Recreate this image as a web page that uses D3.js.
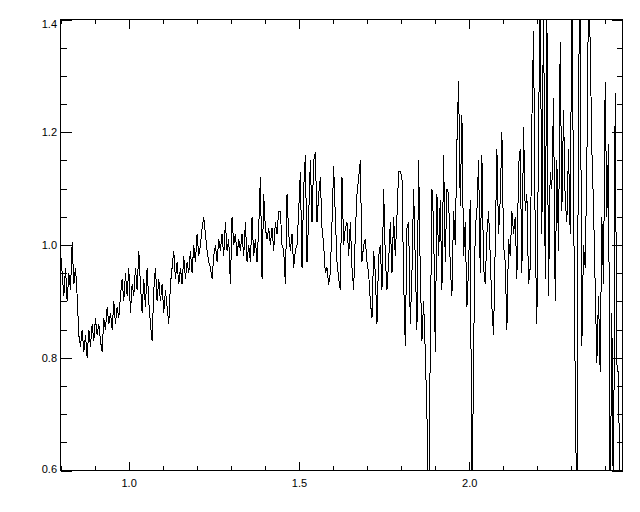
<!DOCTYPE html>
<html>
<head>
<meta charset="utf-8">
<script src="https://cdn.jsdelivr.net/npm/d3@7"></script>
<style>
  body { margin: 0; background: #fff; }
  text { font-family: "Liberation Sans", Arial, sans-serif; font-size: 11px; fill: #000; }
</style>
</head>
<body>
<div id="chart"></div>
<script>
// Spectrum: flux on an even wavelength grid
const waveStart = 0.80, waveEnd = 2.448;
const flux = [
  0.99, 0.95, 0.91, 0.96, 0.90, 0.95,   0.92, 1.005, 0.93, 0.96, 0.91, 0.84,
  0.82, 0.85, 0.81, 0.84, 0.80, 0.85,   0.82, 0.86, 0.83, 0.87, 0.84, 0.86,
  0.83, 0.81, 0.87, 0.85, 0.89, 0.86,   0.88, 0.85, 0.90, 0.86, 0.89, 0.87,
  0.91, 0.94, 0.90, 0.95, 0.91, 0.96,   0.88, 0.93, 0.91, 0.96, 0.92, 0.99,
  0.93, 0.88, 0.94, 0.89, 0.96, 0.90,   0.86, 0.83, 0.92, 0.96, 0.90, 0.94,
  0.90, 0.93, 0.88, 0.92, 0.89, 0.86,   0.93, 0.96, 0.99, 0.94, 0.97, 0.93,
  0.96, 0.93, 0.98, 0.94, 0.97, 0.95,   0.99, 0.95, 1.00, 0.97, 1.02, 0.98,
  1.00, 1.03, 1.05, 1.02, 0.99, 0.97,   0.96, 0.94, 0.98, 1.00, 0.97, 1.01,
  0.99, 1.02, 0.98, 1.04, 0.99, 1.01,   0.93, 1.05, 1.00, 1.02, 0.98, 1.01,
  0.99, 1.02, 0.98, 1.04, 0.97, 1.00,   0.97, 1.05, 0.98, 1.01, 0.97, 1.03,
  1.12, 0.94, 1.09, 1.03, 1.01, 1.03,   1.00, 1.03, 0.99, 1.04, 1.02, 1.06,
  1.06, 1.00, 0.99, 0.93, 1.09, 1.02,   0.99, 1.02, 0.96, 0.99, 1.00, 1.06,
  1.13, 0.96, 1.10, 1.16, 0.97, 1.05,   1.15, 1.04, 1.15, 1.165, 1.04, 1.09,
  1.12, 1.03, 1.00, 0.95, 0.96, 0.93,   0.95, 1.04, 1.14, 1.05, 0.97, 0.94,
  0.92, 1.12, 1.00, 1.03, 1.04, 0.98,   1.04, 0.96, 0.92, 1.02, 1.09, 1.12,
  1.15, 0.97, 1.00, 1.01, 0.97, 0.95,   0.90, 0.87, 0.99, 0.95, 0.86, 0.98,
  1.00, 0.92, 1.10, 0.98, 0.92, 0.97,   1.04, 0.95, 1.05, 0.98, 1.05, 1.13,
  1.13, 1.12, 0.94, 0.82, 1.03, 1.04,   0.86, 0.95, 1.10, 0.97, 0.85, 1.15,
  0.95, 0.83, 0.90, 0.81, 0.70, 0.50,   0.82, 1.10, 1.04, 0.81, 1.09, 0.98,
  1.08, 0.92, 1.16, 0.97, 1.10, 1.09,   0.96, 0.91, 1.06, 1.00, 1.18, 1.29,
  1.07, 1.23, 0.98, 1.04, 0.89, 0.96,   1.08, 0.50, 0.80, 1.03, 1.06, 1.15,
  0.95, 1.16, 0.96, 0.93, 1.02, 1.06,   0.98, 0.89, 0.84, 1.00, 1.17, 1.02,
  1.08, 1.20, 1.00, 0.97, 0.85, 1.01,   0.98, 1.06, 1.02, 1.05, 0.94, 1.14,
  1.17, 0.95, 1.21, 1.06, 1.09, 0.93,   0.96, 1.22, 1.38, 1.02, 0.86, 1.20,
  1.45, 1.02, 1.45, 0.94, 1.42, 0.91,   1.13, 1.10, 1.26, 0.90, 1.15, 0.99,
  1.36, 1.06, 1.24, 1.08, 1.04, 1.17,   1.02, 1.45, 1.10, 0.76, 0.50, 1.29,
  1.45, 0.82, 1.00, 0.96, 1.14, 1.45,   1.36, 1.17, 1.07, 0.93, 0.79, 0.91,
  0.775, 1.05, 0.93, 1.29, 1.05, 1.18,  0.50, 0.88, 0.50, 1.27, 0.79, 0.77,
  0.50, 0.58
];

// Axis ticks
const xMajorTicks = [1.0, 1.5, 2.0];
const yMajorTicks = [0.6, 0.8, 1.0, 1.2, 1.4];

const width = 640, height = 512;
const plot = {left: 60.5, right: 622.5, top: 19.5, bottom: 470.5};

const svg = d3.select("#chart")
  .append("svg")
    .attr("width", width)
    .attr("height", height)
    .attr("viewBox", [0, 0, width, height]);

const xScale = d3.scaleLinear()
  .domain([0.8, 2.45])
  .range([plot.left, plot.right]);

const yScale = d3.scaleLinear()
  .domain([0.6, 1.4])
  .range([plot.bottom, plot.top]);

const xMinorTicks = d3.range(0.8, 2.451, 0.1).map(d => +d.toFixed(2)).filter(d => !xMajorTicks.includes(d));
const yMinorTicks = d3.range(0.6, 1.401, 0.05).map(d => +d.toFixed(2)).filter(d => !yMajorTicks.includes(d));

// clip the spectrum to the plot box
svg.append("clipPath")
    .attr("id", "clip")
  .append("rect")
    .attr("x", plot.left)
    .attr("y", plot.top)
    .attr("width", plot.right - plot.left)
    .attr("height", plot.bottom - plot.top);

const step = (waveEnd - waveStart) / (flux.length - 1);
const data = flux.map((v, i) => ({wave: waveStart + i * step, value: v}));

const line = d3.line()
  .x(d => xScale(d.wave))
  .y(d => yScale(d.value));

svg.append("path")
  .datum(data)
  .attr("clip-path", "url(#clip)")
  .attr("d", line)
  .attr("fill", "none")
  .attr("stroke", "#000")
  .attr("stroke-width", 1)
  .attr("shape-rendering", "crispEdges");

// axes: ticks point inward on all four sides
const fmt = d3.format(".1f");
const addAxis = (axis, tx, ty) => {
  const g = svg.append("g")
    .attr("transform", `translate(${tx},${ty})`)
    .call(axis);
  g.select(".domain").remove();
  g.selectAll("line").attr("stroke", "#000").attr("shape-rendering", "crispEdges");
  return g;
};

const xBottom = addAxis(d3.axisBottom(xScale).tickValues(xMajorTicks).tickSize(-9).tickPadding(9).tickFormat(fmt), 0, plot.bottom);
xBottom.selectAll("text").attr("font-size", null).attr("font-family", null);
addAxis(d3.axisBottom(xScale).tickValues(xMinorTicks).tickSize(-4.5).tickFormat(""), 0, plot.bottom);
addAxis(d3.axisTop(xScale).tickValues(xMajorTicks).tickSize(-9).tickFormat(""), 0, plot.top);
addAxis(d3.axisTop(xScale).tickValues(xMinorTicks).tickSize(-4.5).tickFormat(""), 0, plot.top);

const yLeft = addAxis(d3.axisLeft(yScale).tickValues(yMajorTicks).tickSize(-11).tickPadding(3.5).tickFormat(fmt), plot.left, 0);
yLeft.selectAll("text")
  .attr("font-size", null).attr("font-family", null)
  .attr("dy", d => d === 1.4 ? "0.72em" : d === 0.6 ? "0.18em" : "0.32em");
addAxis(d3.axisLeft(yScale).tickValues(yMinorTicks).tickSize(-6).tickFormat(""), plot.left, 0);
addAxis(d3.axisRight(yScale).tickValues(yMajorTicks).tickSize(-11).tickFormat(""), plot.right, 0);
addAxis(d3.axisRight(yScale).tickValues(yMinorTicks).tickSize(-6).tickFormat(""), plot.right, 0);

// plot box
svg.append("rect")
  .attr("x", plot.left)
  .attr("y", plot.top)
  .attr("width", plot.right - plot.left)
  .attr("height", plot.bottom - plot.top)
  .attr("fill", "none")
  .attr("stroke", "#000")
  .attr("shape-rendering", "crispEdges");
</script>
</body>
</html>
